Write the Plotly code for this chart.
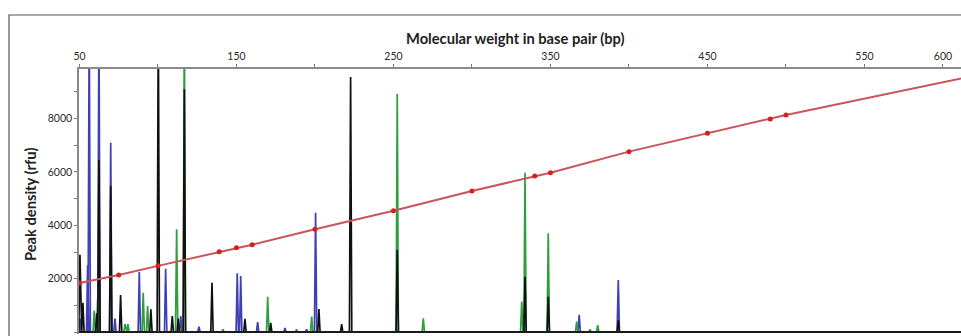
import plotly.graph_objects as go

# ---------------- data ----------------
blue_bp = [50.3, 55.2, 56.2, 62.4, 69.9, 72.6, 88.1, 104.9, 114.5, 126.1, 150.5, 152.7,
           163.5, 180.9, 194.7, 200.4, 368.3, 393.2]
blue_rfu = [500, 2500, 12000, 12000, 7100, 500, 2250, 2370, 600, 200, 2200, 2100,
            370, 150, 100, 4475, 640, 1950]

green_bp = [59.4, 61.6, 79.0, 80.9, 90.6, 93.4, 111.9, 116.8, 141.4, 169.9, 188.3, 197.9,
            252.4, 269.0, 331.7, 333.8, 348.6, 366.7, 375.2, 380.1]
green_rfu = [800, 1240, 300, 300, 1470, 975, 3850, 12000, 100, 1325, 100, 575,
             8925, 510, 1140, 5975, 3700, 390, 100, 260]

black_bp = [50.3, 52.2, 61.0, 62.4, 69.9, 76.2, 95.5, 100.2, 109.1, 112.9, 116.8, 134.4,
            155.4, 171.8, 202.5, 217.0, 222.7, 252.4, 333.8, 348.6, 393.2]
black_rfu = [2900, 1100, 700, 6450, 5470, 1390, 850, 12000, 600, 500, 9100, 1850,
             490, 340, 860, 300, 9560, 3075, 2075, 1325, 450]

# size standard (red calibration curve)
size_std_bp = [50, 75, 100, 139, 150, 160, 200, 250, 300, 340, 350, 400, 450, 490, 500]
size_std_val = [1838, 2138, 2480, 3005, 3161, 3274, 3851, 4545, 5287, 5850, 5975, 6763,
                7450, 7990, 8140]
curve_end_bp = [612]
curve_end_val = [9510]

x_tick_vals = [50, 100, 150, 200, 250, 300, 350, 400, 450, 500, 550, 600]
x_tick_text = ["50", "", "150", "", "250", "", "350", "", "450", "", "550", "600"]
y_tick_vals = [0, 1000, 2000, 3000, 4000, 5000, 6000, 7000, 8000, 9000]
y_tick_text = ["0", "", "2000", "", "4000", "", "6000", "", "8000", ""]

# ---------------- layout constants ----------------
W, H = 961, 336
ML, MR, MT, MB = 79, 0, 69, 2
X_RANGE = [49.7, 611.5]
Y_RANGE = [-75, 9862]
HALF_W = 0.75  # peak half width in bp
PW = W - ML - MR
PH = H - MT - MB


def peak_trace(bps, vals, color, name):
    pairs = sorted(zip(bps, vals))
    xs, ys = [X_RANGE[0]], [0]
    for p, v in pairs:
        xs += [p - HALF_W, p, p + HALF_W]
        ys += [0, v, 0]
    xs.append(X_RANGE[1])
    ys.append(0)
    return go.Scatter(x=xs, y=ys, mode="lines", name=name,
                      line=dict(color=color, width=1.7), hoverinfo="skip",
                      showlegend=False, cliponaxis=True)


fig = go.Figure()
fig.add_trace(peak_trace(blue_bp, blue_rfu, "#3f3fb6", "blue"))
fig.add_trace(peak_trace(green_bp, green_rfu, "#2e9e3e", "green"))
fig.add_trace(peak_trace(black_bp, black_rfu, "#111111", "black"))

fig.add_trace(go.Scatter(x=size_std_bp + curve_end_bp, y=size_std_val + curve_end_val,
                         mode="lines", line=dict(color="#c8555a", width=2),
                         showlegend=False, hoverinfo="skip"))
fig.add_trace(go.Scatter(x=size_std_bp, y=size_std_val, mode="markers",
                         marker=dict(color="#d81e1e", size=5),
                         showlegend=False))

FONT = "Lato, Open Sans, sans-serif"

fig.update_layout(
    width=W, height=H,
    margin=dict(l=ML, r=MR, t=MT, b=MB, pad=0, autoexpand=False),
    paper_bgcolor="white", plot_bgcolor="white",
    font=dict(family=FONT, color="#333333"),
    xaxis=dict(side="top", range=X_RANGE, tickvals=x_tick_vals, ticktext=x_tick_text,
               automargin=False,
               showline=True, linecolor="#8a8a8a", linewidth=2,
               ticks="outside", ticklen=3, tickcolor="#777777", tickwidth=1,
               tickfont=dict(size=10.5, color="#2a2a2a", family=FONT),
               showgrid=False, zeroline=False),
    yaxis=dict(range=Y_RANGE, tickvals=y_tick_vals, ticktext=y_tick_text,
               automargin=False,
               showline=True, linecolor="#8a8a8a", linewidth=1.5,
               ticks="outside", ticklen=3, tickcolor="#777777", tickwidth=1,
               tickfont=dict(size=10.5, color="#2a2a2a", family=FONT),
               showgrid=False, zeroline=False),
    shapes=[
        dict(type="rect", xref="paper", yref="paper",
             x0=(9 - ML) / PW, x1=1.2, y0=-0.3, y1=1 + (MT - 15) / PH,
             line=dict(color="#555555", width=1.2), fillcolor="rgba(0,0,0,0)",
             layer="below"),
        dict(type="line", xref="paper", yref="y", x0=0, x1=1, y0=0, y1=0,
             line=dict(color="#1a1a1a", width=2.2), layer="above"),
    ],
    annotations=[
        dict(text="<b>Molecular weight in base pair (bp)</b>", xref="paper", yref="paper",
             x=(515 - ML) / PW, y=1 + (MT - 38) / PH, xanchor="center", yanchor="middle",
             showarrow=False, font=dict(size=14.7, color="#222222", family=FONT)),
        dict(text="<b>Peak density (rfu)</b>", xref="paper", yref="paper",
             x=(30 - ML) / PW, y=1 - (204 - MT) / PH, xanchor="center", yanchor="middle",
             textangle=-90, showarrow=False,
             font=dict(size=14.7, color="#222222", family=FONT)),
    ],
)

fig.write_html("out.html", config={"displayModeBar": False},
               post_script="document.body.style.margin='0';document.body.style.overflow='hidden';")
